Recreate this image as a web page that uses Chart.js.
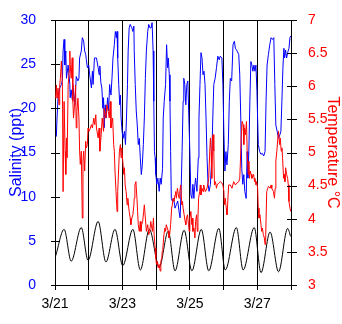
<!DOCTYPE html>
<html>
<head>
<meta charset="utf-8">
<script src="https://cdn.jsdelivr.net/npm/chart.js@4"></script>
<style>
  html, body { margin: 0; padding: 0; background: #fff; }
  canvas { display: block; }
</style>
</head>
<body>
<canvas id="myChart" width="342" height="324"></canvas>
<script>
// x axis runs in days from 3/21 00:00
const dateLabels = ['3/21', '', '3/23', '', '3/25', '', '3/27', ''];

const salinityDays = [0.04,0.06,0.09,0.14,0.19,0.22,0.24,0.27,0.29,0.32,0.34,0.39,0.44,0.45,0.48,0.51,0.53,0.56,0.59,0.63,
    0.68,0.71,0.73,0.78,0.81,0.85,0.88,0.91,0.93,0.96,1.00,1.03,1.08,1.11,1.13,1.17,1.23,1.28,1.31,1.33,1.36,1.39,
    1.42,1.44,1.46,1.49,1.52,1.56,1.59,1.62,1.66,1.69,1.72,1.76,1.79,1.82,1.84,1.86,1.89,1.92,1.94,1.96,
    1.99,2.02,2.06,2.09,2.12,2.15,2.17,2.20,2.23,2.28,2.31,2.34,2.35,2.38,2.41,2.44,2.47,2.50,2.53,2.56,
    2.59,2.62,2.65,2.68,2.71,2.75,2.78,2.82,
    2.85,2.88,2.91,2.93,2.95,2.97,2.99,3.02,3.05,3.09,3.12,3.15,3.19,3.21,3.24,3.28,3.31,3.34,3.36,3.39,
    3.41,3.43,3.45,3.48,3.52,3.56,3.60,3.64,3.68,3.71,3.74,3.77,3.80,3.82,3.85,3.88,3.91,3.94,3.97,4.00,
    4.03,4.06,4.09,4.12,4.14,4.17,4.21,4.25,
    4.27,4.30,4.33,4.36,4.39,4.42,4.45,4.48,4.51,4.54,4.57,4.61,4.65,4.68,4.71,4.75,4.79,4.83,4.87,4.90,
    4.95,4.98,5.01,5.04,5.07,5.10,5.14,5.17,5.20,5.24,5.28,5.32,5.35,5.40,5.45,5.48,5.51,5.54,5.57,5.60,
    5.63,5.67,5.70,
    5.72,5.75,5.78,5.81,5.84,5.87,5.90,5.93,5.96,5.99,6.01,6.03,6.07,6.11,6.15,6.19,6.23,6.26,6.29,6.33,
    6.37,6.41,6.45,6.49,6.52,6.55,6.59,6.63,6.67,6.70,6.73,6.76,6.79,6.81,6.84,6.87,6.90,6.94,6.97,6.99];
const salinity = [16.8,18.9,21.2,22.3,22.7,23.2,26.5,27.8,24.9,26.5,23.4,24.9,22.7,21.2,22.1,21.0,22.7,21.5,20.4,23.6,
    23.1,23.4,25.7,26.5,28.0,27.6,26.5,26.1,25.5,24.6,24.9,23.8,22.3,24.2,22.7,25.7,25.7,24.6,23.8,24.8,22.9,22.3,
    20.0,21.2,17.8,20.4,18.9,21.2,19.7,22.7,21.5,23.4,25.7,27.2,28.7,28.0,28.7,25.7,22.7,20.4,21.5,18.9,
    17.4,16.6,17.4,15.9,18.9,22.7,26.5,29.1,29.5,29.1,28.7,29.3,26.5,22.7,19.7,18.1,15.9,16.6,14.4,12.5,
    13.6,15.9,18.9,23.4,26.5,28.7,29.5,29.1,
    29.1,29.7,26.5,20.8,15.1,14.4,12.5,11.4,12.1,10.6,12.1,11.4,13.2,18.9,20.8,22.7,27.2,24.6,25.7,23.8,
    20.8,15.1,9.8,9.5,9.8,8.7,9.1,9.5,8.3,7.6,10.6,15.1,20.8,23.4,22.7,20.4,22.7,23.1,18.9,15.1,
    10.2,9.8,11.4,9.8,11.0,12.1,10.6,14.4,
    18.9,22.7,26.3,25.7,23.8,24.2,22.7,18.9,14.4,11.4,10.6,11.4,14.4,18.9,22.7,23.4,24.6,25.9,25.5,25.9,
    25.7,22.7,17.0,12.9,15.1,13.6,15.9,20.8,23.4,23.1,27.2,27.6,26.8,26.5,26.1,23.8,18.9,13.2,11.4,12.5,
    10.6,9.8,15.1,
    12.1,15.1,20.8,25.3,24.9,24.2,24.9,24.2,24.9,21.9,18.9,15.9,15.1,14.8,14.9,14.6,15.1,20.8,24.9,26.1,
    27.2,28.0,27.8,28.0,22.7,18.1,17.4,16.6,17.0,17.4,20.8,24.6,26.8,25.7,26.6,25.7,26.3,26.8,28.0,28.2];

const temperatureDays = [0.02,0.04,0.06,0.09,0.12,0.14,0.16,0.19,0.22,0.24,0.27,0.30,0.32,0.34,0.36,0.39,0.42,0.44,0.45,0.48,
    0.51,0.53,0.55,0.58,0.61,0.63,0.65,0.68,0.71,0.73,0.75,0.78,0.81,0.83,0.85,0.88,0.91,0.93,0.96,0.98,
    1.01,1.05,1.08,1.11,1.15,1.18,1.21,1.23,1.28,1.31,1.33,1.37,1.40,
    1.44,1.46,1.51,1.54,1.58,1.61,1.64,1.66,1.71,1.74,1.76,1.78,1.81,1.84,1.86,1.91,1.94,1.96,1.98,2.01,
    2.04,2.06,2.08,2.11,2.14,2.16,2.20,2.23,2.25,2.28,2.31,2.34,2.35,2.37,2.40,2.43,2.45,2.47,2.50,2.53,
    2.55,2.57,2.60,2.63,2.65,2.68,2.71,2.75,2.78,2.81,
    2.84,2.89,2.92,2.94,2.97,2.99,3.01,3.04,3.06,3.09,3.12,3.14,3.17,3.18,3.20,3.23,3.26,3.28,3.30,3.33,
    3.36,3.38,3.40,3.43,3.46,3.48,3.50,3.53,3.56,3.58,3.60,3.63,3.66,3.68,3.70,3.73,3.76,3.78,3.80,3.83,
    3.86,3.88,3.90,3.93,3.96,3.98,4.00,4.03,4.06,4.07,4.09,4.12,4.15,4.17,4.20,4.22,
    4.24,4.26,4.29,4.31,4.33,4.36,4.39,4.41,4.46,4.51,4.56,4.59,4.61,4.63,4.65,4.67,4.69,4.71,4.73,4.76,
    4.79,4.81,4.86,4.90,4.95,4.98,5.01,5.02,5.05,5.08,5.10,5.12,5.15,5.20,5.25,5.30,5.35,5.40,5.45,5.48,
    5.50,5.52,5.55,5.58,5.60,5.62,5.65,5.68,
    5.70,5.73,5.75,5.77,5.79,5.82,5.84,5.89,5.92,5.93,5.96,5.98,6.01,6.03,6.05,6.08,6.11,6.13,6.15,6.18,
    6.21,6.23,6.25,6.28,6.31,6.33,6.38,6.41,6.43,6.48,6.51,6.53,6.55,6.58,6.61,6.63,6.66,6.68,6.71,6.73,
    6.75,6.78,6.81,6.82,6.84,6.87,6.90,6.92,6.94,6.97,6.99];
const temperature = [5.82,6.02,5.82,5.97,5.72,6.02,6.12,6.38,6.02,4.41,5.77,5.02,4.67,5.22,4.92,6.02,6.23,6.53,6.33,6.12,
    6.43,5.77,5.52,5.72,6.02,5.37,5.62,5.82,5.52,5.02,4.82,5.02,4.01,4.87,5.02,4.72,5.17,5.07,5.12,5.37,
    5.32,5.37,5.42,5.37,5.52,5.42,5.57,5.37,5.22,5.37,5.02,5.27,5.52,
    5.32,5.67,5.52,5.72,5.62,5.52,5.77,5.37,5.52,5.12,5.02,4.72,4.41,4.11,4.41,5.02,5.12,4.92,5.07,4.87,
    4.67,4.77,4.51,4.41,4.21,4.31,4.11,4.01,3.91,4.01,4.06,4.21,4.31,4.51,4.56,4.31,4.11,3.91,3.81,3.96,
    3.81,3.91,3.96,4.11,4.21,4.01,3.81,3.91,3.76,3.81,
    3.96,3.81,4.01,3.76,3.56,3.41,3.31,3.36,3.26,3.31,3.21,3.36,3.41,3.51,3.56,3.76,3.86,3.81,3.91,3.86,
    3.81,3.71,3.76,3.91,4.16,4.21,4.31,4.26,4.36,4.41,4.31,4.46,4.36,4.31,4.41,4.51,4.21,4.26,4.16,4.06,
    3.96,3.91,4.01,4.06,3.91,3.81,4.01,4.11,3.91,4.01,3.81,3.86,3.71,3.96,4.06,3.81,
    4.01,4.31,4.41,4.51,4.36,4.46,4.41,4.51,4.41,4.46,4.61,5.02,5.22,5.02,4.61,5.22,5.27,5.02,4.51,4.56,
    4.46,4.51,4.54,4.56,4.54,4.51,4.41,4.21,4.31,4.16,4.06,4.21,4.51,4.51,4.46,4.56,4.51,4.54,4.56,4.61,
    4.87,5.22,5.47,5.42,5.12,5.37,5.27,5.47,
    5.02,4.67,4.87,4.61,4.72,4.67,4.61,4.67,4.56,4.61,4.51,4.56,4.46,4.16,4.01,4.06,3.91,3.81,3.86,3.76,
    3.71,3.61,3.76,4.41,4.46,4.49,4.46,4.51,4.46,4.41,4.31,4.46,4.87,5.02,5.22,5.32,5.12,5.22,5.02,5.07,
    4.92,4.61,4.67,4.56,4.77,4.67,4.61,4.51,4.26,4.16,4.11];

// water level highs and lows, plotted against the salinity axis
const tideDays = [0.02,0.27,0.48,0.78,0.98,1.28,1.51,1.78,2.01,2.31,2.53,2.80,3.09,3.36,3.56,3.83,4.06,4.34,4.56,4.86,
    5.05,5.38,5.58,5.91,6.11,6.38,6.63,6.90,6.99];
const tideLevel = [3.3,6.3,2.7,6.5,2.8,7.2,2.6,6.3,2.2,6.3,1.7,6.3,2.0,6.1,1.6,6.2,1.6,6.3,1.6,6.4,
    1.7,6.5,1.7,6.5,1.4,6.0,1.5,6.4,5.5];

function toPoints(xs, ys) {
    return xs.map((x, i) => ({ x: x, y: ys[i] }));
}

// short tick marks crossing both value axes, plus the top edge of the frame
const frameTicks = {
    id: 'frameTicks',
    afterDraw(chart) {
        const { ctx, chartArea: a, scales } = chart;
        ctx.save();
        ctx.strokeStyle = '#000';
        ctx.lineWidth = 1;
        ctx.beginPath();
        const top = Math.round(a.top) + 0.5;
        ctx.moveTo(a.left, top);
        ctx.lineTo(a.right + 1, top);
        scales.y.ticks.forEach(t => {
            const py = Math.round(scales.y.getPixelForValue(t.value)) + 0.5;
            ctx.moveTo(a.left - 4, py);
            ctx.lineTo(a.left + 5, py);
        });
        scales.temp.ticks.forEach(t => {
            const py = Math.round(scales.temp.getPixelForValue(t.value)) + 0.5;
            ctx.moveTo(a.right - 4, py);
            ctx.lineTo(a.right + 6, py);
        });
        ctx.stroke();
        ctx.restore();
    }
};

Chart.defaults.font.family = "'Liberation Sans', Arial, sans-serif";

const config = {
    type: 'line',
    data: {
        datasets: [{
            label: 'Temperature',
            data: toPoints(temperatureDays, temperature),
            yAxisID: 'temp',
            borderColor: '#ff0000',
            borderWidth: 1,
            pointRadius: 0,
            tension: 0
        }, {
            label: 'Salinity',
            data: toPoints(salinityDays, salinity),
            yAxisID: 'y',
            borderColor: '#0000ff',
            borderWidth: 1,
            pointRadius: 0,
            tension: 0
        }, {
            label: 'Tide',
            data: toPoints(tideDays, tideLevel),
            yAxisID: 'y',
            borderColor: '#000000',
            borderWidth: 1,
            pointRadius: 0,
            cubicInterpolationMode: 'monotone'
        }]
    },
    options: {
        responsive: false,
        animation: false,
        devicePixelRatio: 1,
        layout: { padding: { top: 20, left: 0, right: 0, bottom: 0 } },
        plugins: {
            legend: { display: false },
            tooltip: { enabled: false }
        },
        scales: {
            x: {
                type: 'linear',
                min: 0,
                max: 7,
                afterFit: s => { s.height = 39; },
                grid: { color: '#000', lineWidth: 1, tickLength: 5, tickColor: '#000' },
                border: { display: true, color: '#000' },
                ticks: {
                    stepSize: 1,
                    autoSkip: false,
                    maxRotation: 0,
                    padding: 6,
                    color: '#000',
                    font: { size: 14 },
                    callback: (value, index) => dateLabels[index]
                }
            },
            y: {
                position: 'left',
                min: 0,
                max: 30,
                afterFit: s => { s.width = 55; },
                grid: { display: false },
                border: { display: true, color: '#000' },
                ticks: { stepSize: 5, padding: 11, color: '#0000ff', font: { size: 14 } },
                title: {
                    display: true,
                    text: 'Salinity (ppt)',
                    color: '#0000ff',
                    font: { size: 16 },
                    padding: { top: 7, bottom: 0 }
                }
            },
            temp: {
                position: 'right',
                min: 3,
                max: 7,
                afterFit: s => { s.width = 51; },
                grid: { display: false },
                border: { display: true, color: '#000' },
                ticks: {
                    stepSize: 0.5,
                    padding: 9,
                    color: '#ff0000',
                    font: { size: 14 },
                    callback: value => String(value)
                },
                title: {
                    display: true,
                    text: 'Temperature °C',
                    color: '#ff0000',
                    font: { size: 16 },
                    padding: { top: 0, bottom: 0 }
                }
            }
        }
    },
    plugins: [frameTicks]
};

const myChart = new Chart(document.getElementById('myChart'), config);
</script>
</body>
</html>
